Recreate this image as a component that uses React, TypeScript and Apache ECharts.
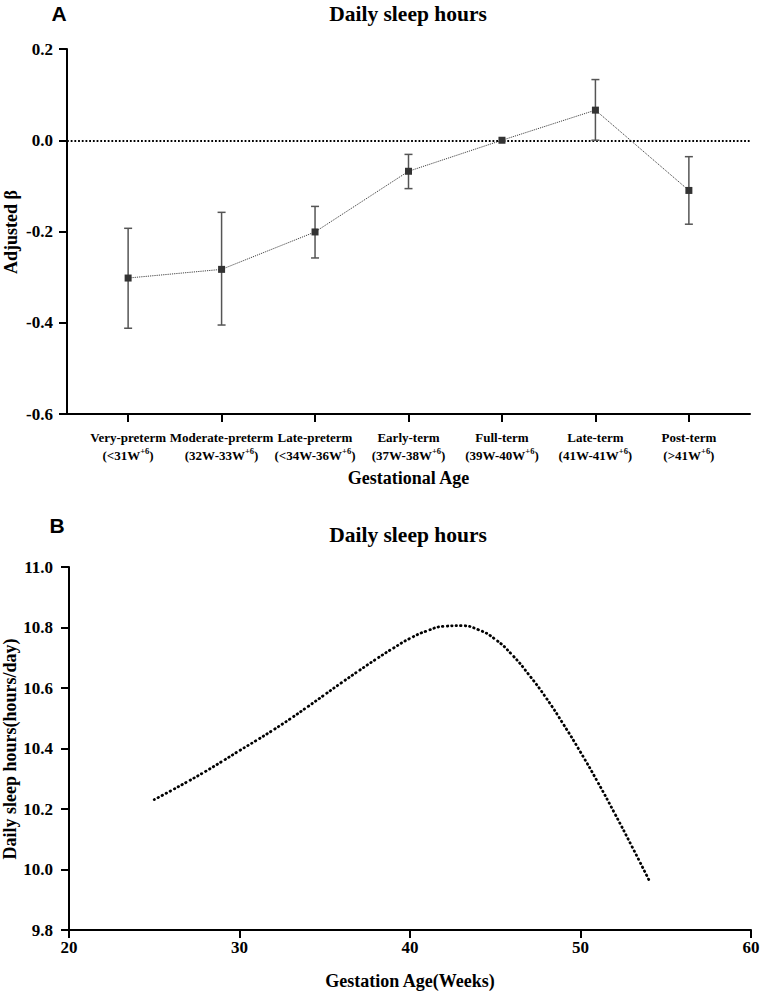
import React, { useEffect, useRef } from 'react';
import * as echarts from 'echarts';

// Panel A data
const categories = ['Very-preterm', 'Moderate-preterm', 'Late-preterm', 'Early-term', 'Full-term', 'Late-term', 'Post-term'];
const ranges = ['<31W', '32W-33W', '<34W-36W', '37W-38W', '39W-40W', '41W-41W', '>41W'];
const beta = [-0.302, -0.283, -0.201, -0.068, 0, 0.066, -0.110];
const lower = [-0.412, -0.405, -0.258, -0.106, 0, 0.0, -0.184];
const upper = [-0.193, -0.158, -0.145, -0.031, 0, 0.133, -0.036];
const betaTicks = [-0.6, -0.4, -0.2, 0.0, 0.2];

// Panel B data
const weeks = [25, 26, 27, 28, 29, 30, 31, 32, 33, 34, 35, 36, 37, 38, 39, 40, 41, 42, 43, 44, 45, 46, 47, 48, 49, 50, 51, 52, 53, 54];
const sleepHours = [10.231, 10.261, 10.292, 10.324, 10.358, 10.393, 10.427, 10.462, 10.499, 10.538, 10.578, 10.618, 10.657, 10.695, 10.731, 10.764, 10.789, 10.804, 10.806, 10.793, 10.761, 10.709, 10.642, 10.566, 10.480, 10.388, 10.290, 10.186, 10.078, 9.967];
const weekTicks = [20, 30, 40, 50, 60];

const SERIF = '"Liberation Serif", "Times New Roman", serif';
const SANS = '"Liberation Sans", Arial, sans-serif';

export default function App() {
  const ref = useRef<HTMLDivElement>(null);
  useEffect(() => {
    document.body.style.margin = '0';
    const chart = echarts.init(ref.current!, null, { renderer: 'svg' });
    const axisLine = { show: true, onZero: false, lineStyle: { color: '#000', width: 2 } };
    const axisTick = { show: true, inside: false, length: 8, lineStyle: { color: '#000', width: 2 } };
    const tickLabel = { color: '#000', fontFamily: SERIF, fontWeight: 'bold' as const, fontSize: 17 };
    const nameStyle = { color: '#000', fontFamily: SERIF, fontWeight: 'bold' as const, fontSize: 18 };
    const textStyle = (text: string, fontSize: number, family = SERIF) => ({
      text, fontFamily: family, fontWeight: 'bold', fontSize, fill: '#000', textAlign: 'center', textVerticalAlign: 'middle',
    });

    const option: any = {
      animation: false,
      backgroundColor: '#fff',
      graphic: [
        { type: 'text', x: 59, y: 13, style: textStyle('A', 21, SANS) },
        { type: 'text', x: 57, y: 525, style: textStyle('B', 21, SANS) },
        { type: 'text', x: 408, y: 14, style: textStyle('Daily sleep hours', 21.5) },
        { type: 'text', x: 408, y: 535, style: textStyle('Daily sleep hours', 21.5) },
        { type: 'text', x: 11, y: 232, rotation: Math.PI / 2, style: textStyle('Adjusted β', 18) },
        { type: 'text', x: 10, y: 749, rotation: Math.PI / 2, style: textStyle('Daily sleep hours(hours/day)', 18) },
      ],
      grid: [
        { left: 67, right: 11, top: 49, height: 365, containLabel: false, outerBoundsMode: 'none' },
        { left: 69, right: 10, top: 567, height: 363, containLabel: false, outerBoundsMode: 'none' },
      ],
      xAxis: [
        {
          gridIndex: 0,
          type: 'value',
          min: -0.654,
          max: 6.654,
          name: 'Gestational Age',
          nameLocation: 'middle',
          nameGap: 55,
          nameTextStyle: nameStyle,
          axisLine,
          axisTick: { ...axisTick, customValues: [0, 1, 2, 3, 4, 5, 6] },
          splitLine: { show: false },
          axisLabel: {
            customValues: [0, 1, 2, 3, 4, 5, 6],
            margin: 14,
            hideOverlap: false,
            color: '#000',
            fontFamily: SERIF,
            fontWeight: 'bold',
            fontSize: 13,
            lineHeight: 18,
            formatter: (v: number) => {
              const i = Math.round(v);
              return `${categories[i]}\n(${ranges[i]}{sup|+6})`;
            },
            rich: {
              sup: { fontFamily: SERIF, fontWeight: 'bold', fontSize: 8.5, color: '#000', verticalAlign: 'top', lineHeight: 18 },
            },
          },
        },
        {
          gridIndex: 1,
          type: 'value',
          min: 20,
          max: 60,
          interval: 10,
          name: 'Gestation Age(Weeks)',
          nameLocation: 'middle',
          nameGap: 42,
          nameTextStyle: nameStyle,
          axisLine,
          axisTick,
          splitLine: { show: false },
          axisLabel: {
            ...tickLabel,
            margin: 9,
            customValues: weekTicks,
            formatter: (v: number) => String(v),
          },
        },
      ],
      yAxis: [
        {
          gridIndex: 0,
          type: 'value',
          min: -0.6,
          max: 0.2,
          interval: 0.2,
          axisLine,
          axisTick,
          splitLine: { show: false },
          axisLabel: { ...tickLabel, margin: 14, customValues: betaTicks, formatter: (v: number) => v.toFixed(1) },
        },
        {
          gridIndex: 1,
          type: 'value',
          min: 9.8,
          max: 11.0,
          interval: 0.2,
          axisLine,
          axisTick,
          splitLine: { show: false },
          axisLabel: { ...tickLabel, margin: 16, formatter: (v: number) => v.toFixed(1) },
        },
      ],
      series: [
        {
          type: 'custom',
          xAxisIndex: 0,
          yAxisIndex: 0,
          data: categories.map((_, i) => [i, lower[i], upper[i]]),
          encode: { x: 0, y: [1, 2] },
          z: 2,
          renderItem: (params: any, api: any) => {
            const x = api.value(0);
            const lo = api.value(1);
            const hi = api.value(2);
            if (lo === hi) return null;
            const pLo = api.coord([x, lo]);
            const pHi = api.coord([x, hi]);
            const cap = 4;
            const style = { stroke: '#555', lineWidth: 1.5 };
            return {
              type: 'group',
              children: [
                { type: 'line', shape: { x1: pLo[0], y1: pLo[1], x2: pHi[0], y2: pHi[1] }, style },
                { type: 'line', shape: { x1: pLo[0] - cap, y1: pLo[1], x2: pLo[0] + cap, y2: pLo[1] }, style },
                { type: 'line', shape: { x1: pHi[0] - cap, y1: pHi[1], x2: pHi[0] + cap, y2: pHi[1] }, style },
              ],
            };
          },
        },
        {
          type: 'line',
          xAxisIndex: 0,
          yAxisIndex: 0,
          data: beta.map((v, i) => [i, v]),
          symbol: 'rect',
          symbolSize: 7,
          itemStyle: { color: '#333' },
          lineStyle: { color: '#444', width: 1, type: [1.2, 1] },
          z: 3,
          markLine: {
            silent: true,
            symbol: 'none',
            label: { show: false },
            lineStyle: { color: '#000', width: 1.8, type: [1.8, 1.9] },
            data: [{ yAxis: 0 }],
            z: 1,
          },
        },
        {
          type: 'line',
          xAxisIndex: 1,
          yAxisIndex: 1,
          data: weeks.map((w, i) => [w, sleepHours[i]]),
          smooth: 0.5,
          symbol: 'none',
          lineStyle: { color: '#000', width: 2.8, type: [0.5, 4], cap: 'round' },
        },
      ],
    };
    chart.setOption(option);
    return () => chart.dispose();
  }, []);
  return <div ref={ref} style={{ width: 761, height: 993 }} />;
}
